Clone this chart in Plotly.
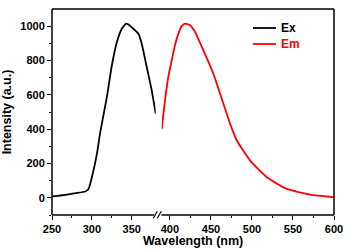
import plotly.graph_objects as go

# Excitation spectrum
ex_wl = [250, 269, 280, 291.6, 295.8, 300, 306.3, 310.4, 318.8, 325, 331.3, 337.5, 342.9, 345.8, 352, 358.3, 362.5, 368.8, 375, 380]
ex_int = [8, 19, 27, 37, 52, 120, 256, 380, 587, 771, 907, 985, 1015, 1010, 985, 956, 898, 761, 626, 490]

# Emission spectrum
em_wl = [390, 394, 398, 402.2, 406.2, 410.3, 414.4, 418.4, 424.6, 430.7, 440.8, 453, 461.2, 473.4, 481.6, 497.8, 518.2, 542.6, 571.1, 600]
em_int = [400, 566, 703, 800, 890, 955, 1000, 1015, 1005, 966, 859, 723, 606, 431, 334, 217, 120, 52, 19, 4]

series_names = ["Ex", "Em"]
series_colors = ["black", "red"]

left_ticks = [250, 300, 350]
left_minor = [275, 325]
right_ticks = [400, 450, 500, 550, 600]
right_minor = [425, 475, 525, 575]
y_ticks = [0, 200, 400, 600, 800, 1000]
y_minor = [-100, 100, 300, 500, 700, 900]

FONT = "Arial, Liberation Sans, sans-serif"
W, H = 354, 250
ML, MR, MT, MB = 52, 20, 9, 35
PW, PH = W - ML - MR, H - MT - MB

def px2x(px):
    return (px - ML) / PW

def py2y(py):
    return (H - MB - py) / PH

fig = go.Figure()
fig.add_trace(go.Scatter(x=ex_wl, y=ex_int, mode="lines", name=series_names[0],
                         line=dict(color=series_colors[0], width=1.8, shape="spline", smoothing=0.5),
                         xaxis="x", yaxis="y", showlegend=False))
fig.add_trace(go.Scatter(x=em_wl, y=em_int, mode="lines", name=series_names[1],
                         line=dict(color=series_colors[1], width=1.8, shape="spline", smoothing=0.5),
                         xaxis="x2", yaxis="y", showlegend=False))

tickfont = dict(family=FONT, size=11, color="black", weight="bold")
common_x = dict(showline=False, showgrid=False, zeroline=False, ticks="outside", ticklen=4,
                tickwidth=1.4, tickcolor="black", tickfont=tickfont, anchor="y", automargin=False)

left_end = px2x(155.7)
right_start = px2x(161.7)

fig.update_layout(
    template="none",
    width=W, height=H,
    margin=dict(l=ML, r=MR, t=MT, b=MB, autoexpand=False),
    paper_bgcolor="white", plot_bgcolor="white",
    xaxis=dict(domain=[0, left_end], range=[250, 380], tickmode="array", tickvals=left_ticks,
               minor=dict(tickvals=left_minor, ticks="outside", ticklen=2, tickwidth=1.4, tickcolor="black"),
               **common_x),
    xaxis2=dict(domain=[right_start, 1], range=[390, 600], tickmode="array", tickvals=right_ticks,
                minor=dict(tickvals=right_minor, ticks="outside", ticklen=2, tickwidth=1.4, tickcolor="black"),
                **common_x),
    yaxis=dict(range=[-100, 1100], tickmode="array", tickvals=y_ticks, showline=False,
               showgrid=False, zeroline=False, ticks="outside", ticklen=4, tickwidth=1.4,
               tickcolor="black", tickfont=tickfont, anchor="x", automargin=False,
               minor=dict(tickvals=y_minor, ticks="outside", ticklen=2, tickwidth=1.4, tickcolor="black"),
               title=dict(text="Intensity (a.u.)", standoff=8,
                          font=dict(family=FONT, size=12.5, color="black", weight="bold"))),
)

lw = 1.5
shapes = [
    dict(type="line", xref="paper", yref="paper", x0=0, x1=1, y0=1, y1=1, line=dict(color="black", width=lw)),
    dict(type="line", xref="paper", yref="paper", x0=0, x1=0, y0=0, y1=1, line=dict(color="black", width=lw)),
    dict(type="line", xref="paper", yref="paper", x0=1, x1=1, y0=0, y1=1, line=dict(color="black", width=lw)),
    dict(type="line", xref="paper", yref="paper", x0=0, x1=px2x(154), y0=0, y1=0, line=dict(color="black", width=lw)),
    dict(type="line", xref="paper", yref="paper", x0=px2x(161.5), x1=1, y0=0, y1=0, line=dict(color="black", width=lw)),
]
for cx in (155.3, 159.3):
    shapes.append(dict(type="line", xref="paper", yref="paper",
                       x0=px2x(cx - 2), x1=px2x(cx + 2), y0=py2y(214.7 + 3.5), y1=py2y(214.7 - 3.5),
                       line=dict(color="black", width=1.2)))

# manual legend
legend_y = [py2y(28), py2y(44)]
for name, color, ly in zip(series_names, series_colors, legend_y):
    shapes.append(dict(type="line", xref="paper", yref="paper", x0=px2x(253), x1=px2x(276),
                       y0=ly, y1=ly, line=dict(color=color, width=1.8)))
    fig.add_annotation(x=px2x(279), y=ly, xref="paper", yref="paper", text=name, showarrow=False,
                       xanchor="left", yanchor="middle",
                       font=dict(family=FONT, size=12, color=color, weight="bold"))

fig.update_layout(shapes=shapes)

fig.add_annotation(x=0.5, y=py2y(241), xref="paper", yref="paper", text="Wavelength (nm)",
                   showarrow=False, xanchor="center", yanchor="middle",
                   font=dict(family=FONT, size=12.5, color="black", weight="bold"))

fig.write_html("out.html", config={"displayModeBar": False},
               post_script="document.body.style.margin='0px';document.body.style.overflow='hidden';")
